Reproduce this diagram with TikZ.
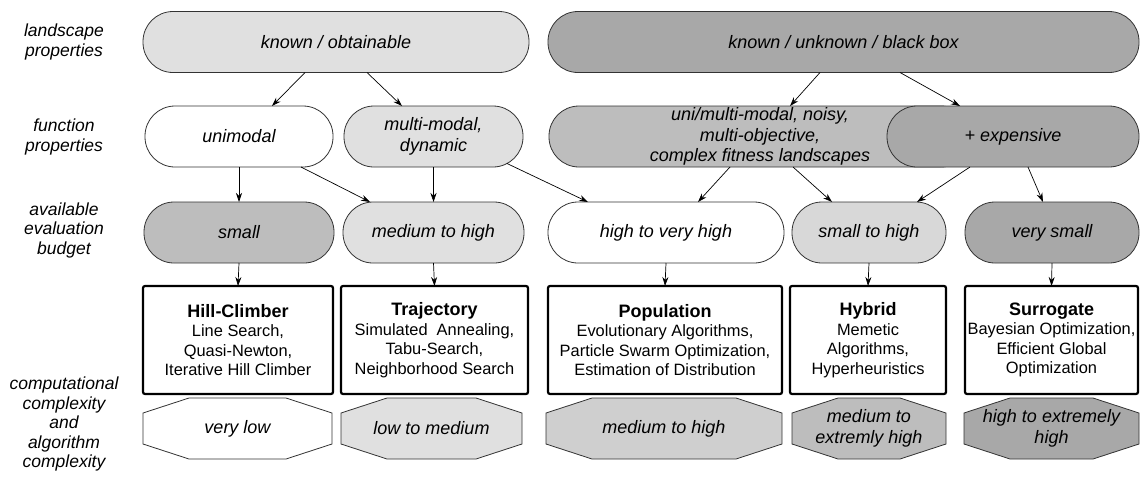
\documentclass[tikz,border=0pt]{standalone}
\usepackage{fontspec}
\setmainfont{Liberation Sans}
\usetikzlibrary{arrows.meta,backgrounds}

\definecolor{fillA}{HTML}{E0E0E0}
\definecolor{fillB}{HTML}{D8D8D8}
\definecolor{fillC}{HTML}{CFCFCF}
\definecolor{fillD}{HTML}{BDBDBD}
\definecolor{fillE}{HTML}{A8A8A8}
\definecolor{edge}{HTML}{333333}

\tikzset{
  prop/.style={draw=edge, line width=0.8pt, rounded corners=30pt, minimum height=61pt,
    inner sep=0pt, outer sep=0pt, align=center, font=\fontsize{18}{20.5}\selectfont\itshape},
  algo/.style={draw=black, line width=2.2pt, rounded corners=2pt, minimum height=108pt,
    inner sep=0pt, outer sep=0pt, align=center, font=\fontsize{16.4}{19.6}\selectfont},
  cost/.style={minimum height=61pt, inner sep=0pt, outer sep=0pt,
    align=center, font=\fontsize{18}{20.5}\selectfont\itshape},
  rowlabel/.style={align=center, font=\fontsize{17.5}{19.5}\selectfont\itshape},
  link/.style={draw=black, line width=0.7pt, -{Stealth[length=9pt,width=6pt]}}
}
\newcommand{\algotitle}[1]{{\fontsize{18}{21}\selectfont\bfseries #1}}

\begin{document}
\begin{tikzpicture}[x=1pt, y=-1pt]
  \useasboundingbox (0,0) rectangle (1140,483);

  % row labels
  \node[rowlabel] (lab1) at (64,42) {landscape\\properties};
  \node[rowlabel] (lab2) at (64,137) {function\\properties};
  \node[rowlabel] (lab3) at (64,230) {available\\evaluation\\budget};
  \node[rowlabel] (lab4) at (64,424) {computational\\complexity\\and\\algorithm\\complexity};

  % landscape properties
  \node[prop, fill=fillA, minimum width=386pt] (ko) at (336,42) {known / obtainable};
  \node[prop, fill=fillE, minimum width=591pt] (kb) at (843.5,42) {known / unknown / black box};

  % function properties
  \node[prop, fill=white, minimum width=188pt] (uni) at (239,136.5) {unimodal};
  \node[prop, fill=fillA, minimum width=179pt] (mmd) at (433.5,136.5) {multi-modal,\\dynamic};
  \node[prop, fill=fillD, minimum width=422pt] (umn) at (760,136.5)
    {uni/multi-modal, noisy,\\multi-objective,\\complex fitness landscapes};
  \node[prop, fill=fillE, minimum width=252pt] (exp) at (1013,136.5) {+ expensive};

  % evaluation budget
  \node[prop, fill=fillD, minimum width=190pt] (sml) at (239,232.5) {small};
  \node[prop, fill=fillA, minimum width=181pt] (mth) at (433.5,232.5) {medium to high};
  \node[prop, fill=white, minimum width=236pt] (hvh) at (666,232.5) {high to very high};
  \node[prop, fill=fillB, minimum width=154pt] (sth) at (869,232.5) {small to high};
  \node[prop, fill=fillE, minimum width=174pt] (vsm) at (1052,232.5) {very small};

  % algorithm classes
  \node[algo, minimum width=190pt] (hc) at (238,340)
    {\algotitle{Hill-Climber}\\Line Search,\\Quasi-Newton,\\Iterative Hill Climber};
  \node[algo, minimum width=187pt] (tr) at (434.5,340)
    {\algotitle{Trajectory}\\Simulated~~Annealing,\\Tabu-Search,\\Neighborhood Search};
  \node[algo, minimum width=234pt] (pop) at (665,340)
    {\algotitle{Population}\\Evolutionary Algorithms,\\Particle Swarm Optimization,\\Estimation of Distribution};
  \node[algo, minimum width=156pt] (hyb) at (868,340)
    {\algotitle{Hybrid}\\Memetic\\Algorithms,\\Hyperheuristics};
  \node[algo, minimum width=173pt] (sur) at (1051.5,340)
    {\algotitle{Surrogate}\\Bayesian Optimization,\\Efficient Global\\Optimization};

  % complexity
  \node[cost, minimum width=189pt] (oc1) at (237.5,428.5) {very low};
  \node[cost, minimum width=181pt] (oc2) at (431.5,428.5) {low to medium};
  \node[cost, minimum width=236pt] (oc3) at (664,428.5) {medium to high};
  \node[cost, minimum width=154pt] (oc4) at (869,428.5) {medium to\\extremly high};
  \node[cost, minimum width=175pt] (oc5) at (1051.5,428.5) {high to extremely\\high};
  \begin{scope}[on background layer]
    \foreach \n/\c in {oc1/white, oc2/fillA, oc3/fillC, oc4/fillD, oc5/fillE} {
      \filldraw[fill=\c, draw=edge, line width=0.8pt]
        ([xshift=46pt]\n.north west) -- ([xshift=-46pt]\n.north east)
        -- ([yshift=-15pt]\n.north east) -- ([yshift=15pt]\n.south east)
        -- ([xshift=-46pt]\n.south east) -- ([xshift=46pt]\n.south west)
        -- ([yshift=15pt]\n.south west) -- ([yshift=-15pt]\n.north west) -- cycle;
    }
  \end{scope}

  % connectors
  \draw[link] ([xshift=-31pt]ko.south) -- ([xshift=33pt]uni.north);
  \draw[link] ([xshift=31pt]ko.south) -- ([xshift=-31.5pt]mmd.north);
  \draw[link] ([xshift=-23.5pt]kb.south) -- ([xshift=30pt]umn.north);
  \draw[link] ([xshift=56.5pt]kb.south) -- ([xshift=-53pt]exp.north);

  \draw[link] (uni.south) -- (sml.north);
  \draw[link] ([xshift=62pt]uni.south) -- ([xshift=-63.5pt]mth.north);
  \draw[link] (mmd.south) -- (mth.north);
  \draw[link] ([xshift=73.5pt,yshift=3.5pt]mmd.south) -- ([xshift=-78pt]hvh.north);
  \draw[link] ([xshift=-30pt]umn.south) -- ([xshift=32pt]hvh.north);
  \draw[link] ([xshift=33pt]umn.south) -- ([xshift=-37pt]sth.north);
  \draw[link] ([xshift=-43pt]exp.south) -- ([xshift=48pt]sth.north);
  \draw[link] ([xshift=15pt]exp.south) -- ([xshift=-9pt]vsm.north);

  \draw[link] (sml.south) -- (hc.north);
  \draw[link] (mth.south) -- (tr.north);
  \draw[link] (hvh.south) -- (pop.north);
  \draw[link] (sth.south) -- (hyb.north);
  \draw[link] (vsm.south) -- (sur.north);
\end{tikzpicture}
\end{document}
